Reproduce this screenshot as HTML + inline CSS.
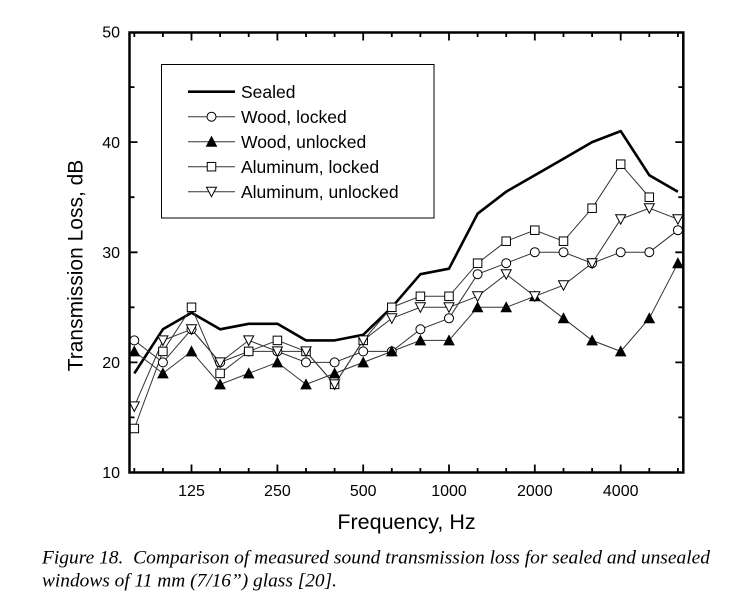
<!DOCTYPE html>
<html>
<head>
<meta charset="utf-8">
<style>
  html,body{margin:0;padding:0;background:#fff;}
  svg{display:block;}
  .sans{font-family:"Liberation Sans",Arial,sans-serif;fill:#000;}
  .serif{font-family:"Liberation Serif","Times New Roman",serif;font-style:italic;fill:#000;white-space:pre;}
</style>
</head>
<body>
<svg width="741" height="612" viewBox="0 0 741 612" xmlns="http://www.w3.org/2000/svg">
  <rect x="0" y="0" width="741" height="612" fill="#fff"/>
  <defs>
    <circle id="mc" r="4.5" fill="#fff" stroke="#000" stroke-width="1"/>
    <rect id="ms" x="-4.25" y="-4.25" width="8.5" height="8.5" fill="#fff" stroke="#000" stroke-width="1"/>
    <polygon id="mt" points="-5,4.5 5,4.5 0,-5" fill="#000" stroke="#000" stroke-width="1"/>
    <polygon id="mv" points="-5,-4.5 5,-4.5 0,5" fill="#fff" stroke="#000" stroke-width="1"/>
  </defs>

  <!-- Sealed -->
  <polyline fill="none" stroke="#000" stroke-width="2.6" stroke-linejoin="round"
    points="134.3,373.4 162.9,329.3 191.5,312.8 220.1,329.3 248.7,323.8 277.4,323.8 306.0,340.4 334.6,340.4 363.2,334.8 391.8,307.3 420.4,274.2 449.0,268.7 477.6,213.7 506.2,191.7 534.8,175.2 563.5,158.7 592.1,142.1 620.7,131.1 649.3,175.2 677.9,191.7"/>

  <!-- series lines -->
  <g fill="none" stroke="#333" stroke-width="1">
    <polyline points="134.3,340.4 162.9,362.4 191.5,329.3 220.1,362.4 248.7,351.4 277.4,351.4 306.0,362.4 334.6,362.4 363.2,351.4 391.8,351.4 420.4,329.3 449.0,318.3 477.6,274.2 506.2,263.2 534.8,252.2 563.5,252.2 592.1,263.2 620.7,252.2 649.3,252.2 677.9,230.2"/>
    <polyline points="134.3,351.4 162.9,373.4 191.5,351.4 220.1,384.4 248.7,373.4 277.4,362.4 306.0,384.4 334.6,373.4 363.2,362.4 391.8,351.4 420.4,340.4 449.0,340.4 477.6,307.3 506.2,307.3 534.8,296.3 563.5,318.3 592.1,340.4 620.7,351.4 649.3,318.3 677.9,263.2"/>
    <polyline points="134.3,428.5 162.9,351.4 191.5,307.3 220.1,373.4 248.7,351.4 277.4,340.4 306.0,351.4 334.6,384.4 363.2,340.4 391.8,307.3 420.4,296.3 449.0,296.3 477.6,263.2 506.2,241.2 534.8,230.2 563.5,241.2 592.1,208.2 620.7,164.2 649.3,197.2"/>
    <polyline points="134.3,406.4 162.9,340.4 191.5,329.3 220.1,362.4 248.7,340.4 277.4,351.4 306.0,351.4 334.6,384.4 363.2,340.4 391.8,318.3 420.4,307.3 449.0,307.3 477.6,296.3 506.2,274.2 534.8,296.3 563.5,285.2 592.1,263.2 620.7,219.2 649.3,208.2 677.9,219.2"/>
  </g>

  <!-- Wood, locked markers -->
  <g>
    <use href="#mc" x="134.3" y="340.4"/><use href="#mc" x="162.9" y="362.4"/><use href="#mc" x="191.5" y="329.3"/><use href="#mc" x="220.1" y="362.4"/><use href="#mc" x="248.7" y="351.4"/><use href="#mc" x="277.4" y="351.4"/><use href="#mc" x="306.0" y="362.4"/><use href="#mc" x="334.6" y="362.4"/><use href="#mc" x="363.2" y="351.4"/><use href="#mc" x="391.8" y="351.4"/><use href="#mc" x="420.4" y="329.3"/><use href="#mc" x="449.0" y="318.3"/><use href="#mc" x="477.6" y="274.2"/><use href="#mc" x="506.2" y="263.2"/><use href="#mc" x="534.8" y="252.2"/><use href="#mc" x="563.5" y="252.2"/><use href="#mc" x="592.1" y="263.2"/><use href="#mc" x="620.7" y="252.2"/><use href="#mc" x="649.3" y="252.2"/><use href="#mc" x="677.9" y="230.2"/>
  </g>
  <!-- Wood, unlocked markers -->
  <g>
    <use href="#mt" x="134.3" y="351.4"/><use href="#mt" x="162.9" y="373.4"/><use href="#mt" x="191.5" y="351.4"/><use href="#mt" x="220.1" y="384.4"/><use href="#mt" x="248.7" y="373.4"/><use href="#mt" x="277.4" y="362.4"/><use href="#mt" x="306.0" y="384.4"/><use href="#mt" x="334.6" y="373.4"/><use href="#mt" x="363.2" y="362.4"/><use href="#mt" x="391.8" y="351.4"/><use href="#mt" x="420.4" y="340.4"/><use href="#mt" x="449.0" y="340.4"/><use href="#mt" x="477.6" y="307.3"/><use href="#mt" x="506.2" y="307.3"/><use href="#mt" x="534.8" y="296.3"/><use href="#mt" x="563.5" y="318.3"/><use href="#mt" x="592.1" y="340.4"/><use href="#mt" x="620.7" y="351.4"/><use href="#mt" x="649.3" y="318.3"/><use href="#mt" x="677.9" y="263.2"/>
  </g>
  <!-- Aluminum, locked markers -->
  <g>
    <use href="#ms" x="134.3" y="428.5"/><use href="#ms" x="162.9" y="351.4"/><use href="#ms" x="191.5" y="307.3"/><use href="#ms" x="220.1" y="373.4"/><use href="#ms" x="248.7" y="351.4"/><use href="#ms" x="277.4" y="340.4"/><use href="#ms" x="306.0" y="351.4"/><use href="#ms" x="334.6" y="384.4"/><use href="#ms" x="363.2" y="340.4"/><use href="#ms" x="391.8" y="307.3"/><use href="#ms" x="420.4" y="296.3"/><use href="#ms" x="449.0" y="296.3"/><use href="#ms" x="477.6" y="263.2"/><use href="#ms" x="506.2" y="241.2"/><use href="#ms" x="534.8" y="230.2"/><use href="#ms" x="563.5" y="241.2"/><use href="#ms" x="592.1" y="208.2"/><use href="#ms" x="620.7" y="164.2"/><use href="#ms" x="649.3" y="197.2"/>
  </g>
  <!-- Aluminum, unlocked markers -->
  <g>
    <use href="#mv" x="134.3" y="406.4"/><use href="#mv" x="162.9" y="340.4"/><use href="#mv" x="191.5" y="329.3"/><use href="#mv" x="220.1" y="362.4"/><use href="#mv" x="248.7" y="340.4"/><use href="#mv" x="277.4" y="351.4"/><use href="#mv" x="306.0" y="351.4"/><use href="#mv" x="334.6" y="384.4"/><use href="#mv" x="363.2" y="340.4"/><use href="#mv" x="391.8" y="318.3"/><use href="#mv" x="420.4" y="307.3"/><use href="#mv" x="449.0" y="307.3"/><use href="#mv" x="477.6" y="296.3"/><use href="#mv" x="506.2" y="274.2"/><use href="#mv" x="534.8" y="296.3"/><use href="#mv" x="563.5" y="285.2"/><use href="#mv" x="592.1" y="263.2"/><use href="#mv" x="620.7" y="219.2"/><use href="#mv" x="649.3" y="208.2"/><use href="#mv" x="677.9" y="219.2"/>
  </g>

  <!-- axes frame -->
  <rect x="129.5" y="32.5" width="553.8" height="440" fill="none" stroke="#000" stroke-width="2.5"/>

  <!-- ticks -->
  <path fill="none" stroke="#000" stroke-width="1.8" d="
    M134.3 472.5V468 M162.9 472.5V468 M191.5 472.5V464.5 M220.1 472.5V468 M248.7 472.5V468 M277.4 472.5V464.5 M306 472.5V468 M334.6 472.5V468 M363.2 472.5V464.5 M391.8 472.5V468 M420.4 472.5V468 M449 472.5V464.5 M477.6 472.5V468 M506.2 472.5V468 M534.8 472.5V464.5 M563.5 472.5V468 M592.1 472.5V468 M620.7 472.5V464.5 M649.3 472.5V468 M677.9 472.5V468
    M134.3 32.5V37 M162.9 32.5V37 M191.5 32.5V40.5 M220.1 32.5V37 M248.7 32.5V37 M277.4 32.5V40.5 M306 32.5V37 M334.6 32.5V37 M363.2 32.5V40.5 M391.8 32.5V37 M420.4 32.5V37 M449 32.5V40.5 M477.6 32.5V37 M506.2 32.5V37 M534.8 32.5V40.5 M563.5 32.5V37 M592.1 32.5V37 M620.7 32.5V40.5 M649.3 32.5V37 M677.9 32.5V37
    M129.5 417.4H134.5 M129.5 362.4H137.5 M129.5 307.3H134.5 M129.5 252.3H137.5 M129.5 197.2H134.5 M129.5 142.1H137.5 M129.5 87.1H134.5
    M683.3 417.4H678.3 M683.3 362.4H675.3 M683.3 307.3H678.3 M683.3 252.3H675.3 M683.3 197.2H678.3 M683.3 142.1H675.3 M683.3 87.1H678.3
  "/>

  <!-- y tick labels -->
  <g class="sans" font-size="16" text-anchor="end">
    <text x="120" y="37.5">50</text>
    <text x="120" y="147.8">40</text>
    <text x="120" y="257.9">30</text>
    <text x="120" y="368">20</text>
    <text x="120" y="478">10</text>
  </g>
  <!-- x tick labels -->
  <g class="sans" font-size="16" text-anchor="middle">
    <text x="191.5" y="496">125</text>
    <text x="277.4" y="496">250</text>
    <text x="363.2" y="496">500</text>
    <text x="449" y="496">1000</text>
    <text x="534.8" y="496">2000</text>
    <text x="620.7" y="496">4000</text>
  </g>

  <!-- axis titles -->
  <text class="sans" font-size="21.5" text-anchor="middle" x="406.5" y="529">Frequency, Hz</text>
  <text class="sans" font-size="21" text-anchor="middle" transform="translate(82.5,265.5) rotate(-90)">Transmission Loss, dB</text>

  <!-- legend -->
  <rect x="161.5" y="64.5" width="272.5" height="153.5" fill="#fff" stroke="#000" stroke-width="1"/>
  <line x1="188" y1="91.7" x2="235" y2="91.7" stroke="#000" stroke-width="2.6"/>
  <line x1="188" y1="116.7" x2="235" y2="116.7" stroke="#333" stroke-width="1"/>
  <line x1="188" y1="141.7" x2="235" y2="141.7" stroke="#333" stroke-width="1"/>
  <line x1="188" y1="166.7" x2="235" y2="166.7" stroke="#333" stroke-width="1"/>
  <line x1="188" y1="191.7" x2="235" y2="191.7" stroke="#333" stroke-width="1"/>
  <use href="#mc" x="211.5" y="116.7"/>
  <use href="#mt" x="211.5" y="141.7"/>
  <use href="#ms" x="211.5" y="166.7"/>
  <use href="#mv" x="211.5" y="191.7"/>
  <g class="sans" font-size="17.5">
    <text x="241" y="98">Sealed</text>
    <text x="241" y="123">Wood, locked</text>
    <text x="241" y="148">Wood, unlocked</text>
    <text x="241" y="173">Aluminum, locked</text>
    <text x="241" y="198">Aluminum, unlocked</text>
  </g>

  <!-- caption -->
  <text class="serif" font-size="18.5" x="42" y="563.5" textLength="668" lengthAdjust="spacingAndGlyphs">Figure 18.  Comparison of measured sound transmission loss for sealed and unsealed</text>
  <text class="serif" font-size="18.5" x="42" y="586.5" textLength="295" lengthAdjust="spacingAndGlyphs">windows of 11 mm (7/16”) glass [20].</text>
</svg>
</body>
</html>
